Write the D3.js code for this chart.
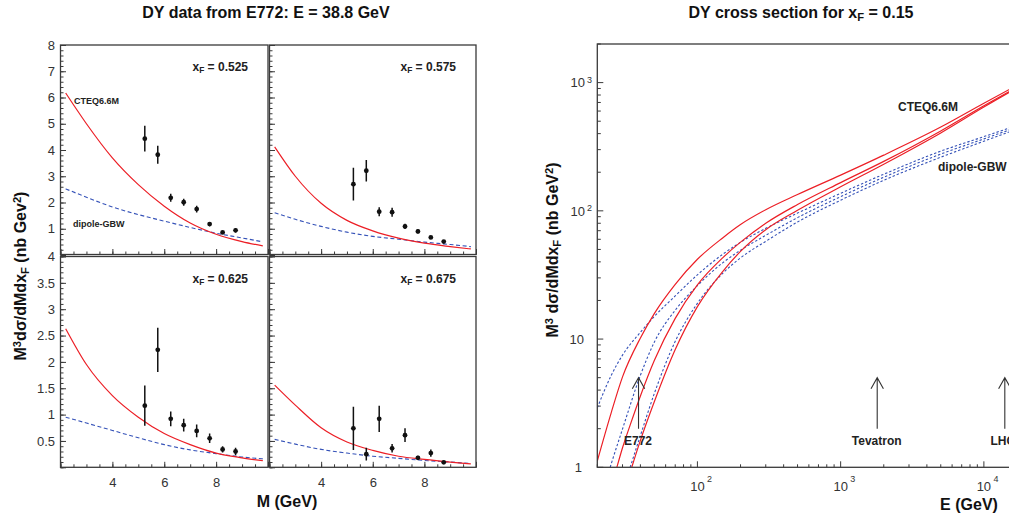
<!DOCTYPE html>
<html><head><meta charset="utf-8">
<script src="https://cdn.jsdelivr.net/npm/d3@7"></script>
<style>
body{margin:0;background:#fff}
svg{display:block}
text{font-family:"Liberation Sans",Arial,Helvetica,sans-serif}
</style></head>
<body><svg id="c" width="1009" height="523"></svg>
<script>
// ---------- data: left panels (E772, E = 38.8 GeV) ----------
const panelXF = ["0.525", "0.575", "0.625", "0.675"];
const massGrid = [2.2, 3, 4, 5, 6, 7, 8, 9, 9.8];
const cteq0525 = [6.17, 5.0, 3.7, 2.68, 1.86, 1.22, 0.79, 0.51, 0.345];
const gbw0525  = [2.52, 2.2, 1.83, 1.54, 1.29, 1.05, 0.83, 0.65, 0.50];
const cteq0575 = [4.12, 3.0, 1.97, 1.32, 0.92, 0.64, 0.45, 0.32, 0.23];
const gbw0575  = [1.61, 1.36, 1.09, 0.87, 0.71, 0.60, 0.49, 0.40, 0.32];
const cteq0625 = [2.63, 1.95, 1.36, 0.95, 0.64, 0.43, 0.27, 0.18, 0.125];
const gbw0625  = [0.95, 0.84, 0.70, 0.56, 0.43, 0.33, 0.26, 0.195, 0.16];
const cteq0675 = [1.56, 1.18, 0.75, 0.48, 0.32, 0.21, 0.15, 0.10, 0.065];
const gbw0675  = [0.53, 0.44, 0.34, 0.27, 0.21, 0.17, 0.13, 0.10, 0.07];

const massBins = [5.25, 5.75, 6.25, 6.75, 7.25, 7.75, 8.25, 8.75];
const data0525 = [4.43, 3.82, 2.18, 2.01, 1.75, 1.18, 0.86, 0.94];
const err0525  = [0.49, 0.34, 0.15, 0.13, 0.13, 0.08, 0.05, 0.08];
const data0575 = [2.70, 3.21, 1.65, 1.63, 1.09, 0.90, 0.67, 0.51];
const err0575  = [0.62, 0.41, 0.17, 0.17, 0.10, 0.08, 0.05, 0.05];
const data0625 = [1.17, 2.23, 0.92, 0.80, 0.69, 0.55, 0.34, 0.30];
const err0625  = [0.38, 0.42, 0.14, 0.12, 0.12, 0.09, 0.06, 0.07];
const data0675 = [0.74, 0.25, 0.92, 0.36, 0.61, 0.18, 0.27, 0.095];
const err0675  = [0.41, 0.12, 0.25, 0.08, 0.13, 0.04, 0.07, 0.03];

const massTicks = [4, 6, 8];
const topYTicks = [1, 2, 3, 4, 5, 6, 7, 8];
const botYTicks = [0.5, 1, 1.5, 2, 2.5, 3, 3.5, 4];

// ---------- data: right chart (x_F = 0.15) ----------
const cteqE1 = [20,25,30,40,50,70,100,150,200,300,500,1000,2000,5000,10000,20000];
const cteqV1 = [1.12,2.66,5.07,10.2,15.8,26.7,41.9,61.5,78.2,102,134,190,272,450,690,1050];
const cteqE2 = [27.4,30,34,40,50,70,100,150,200,300,500,1000,2000,5000,10000,20000];
const cteqV2 = [1.0,1.42,2.15,3.6,6.8,14.5,26.5,43,57,80,112,166,243,420,660,1020];
const cteqE3 = [34.8,40,50,70,100,150,200,300,500,1000,2000,5000,10000,20000];
const cteqV3 = [1.0,1.62,3.24,8.28,17.9,33.6,48.3,71.3,101,154,231,405,645,1005];
const gbwE1 = [20,25,30,40,50,70,100,150,200,300,500,1000,2000,5000,10000,20000];
const gbwV1 = [2.91,5.2,7.5,11.3,15,21.7,31.7,45.8,56.9,73,96,137,193,292,379,493];
const gbwE2 = [24.6,25,30,40,50,70,100,150,200,300,500,1000,2000,5000,10000,20000];
const gbwV2 = [1.0,1.06,1.99,5.22,9.46,16.8,26.1,39.3,49.3,64.4,88.5,129,183,277,364,478];
const gbwE3 = [33.9,40,50,70,100,150,200,300,500,1000,2000,5000,10000,20000];
const gbwV3 = [1.0,1.77,3.76,9.6,19.0,32.5,43,57.8,81.9,121,173,262,349,464];

const markerNames = ["E772", "Tevatron", "LHC"];
const markerE = [38.8, 1800, 14000];
const markerRange = [2, 5];
const xDecades = [100, 1000, 10000];
const yDecades = [1, 10, 100, 1000];

// ---------- drawing ----------
const RED = "#ec1f26", BLUE = "#3552b8", FRAME = "#3a3a3a", TXT = "#222";
const svg = d3.select("#c");
const defs = svg.append("defs");

function sub(textSel, parts) {
  parts.forEach(([t, k]) => {
    const ts = textSel.append("tspan").text(t);
    if (k === "sub") ts.attr("font-size", "0.7em").attr("baseline-shift", "-28%");
    if (k === "sup") ts.attr("font-size", "0.7em").attr("baseline-shift", "45%");
  });
}

// titles
svg.append("text").attr("x", 266).attr("y", 17.5).attr("text-anchor", "middle")
  .attr("font-size", 16).attr("font-weight", "bold").attr("fill", "#111")
  .text("DY data from E772: E = 38.8 GeV");
{
  const t = svg.append("text").attr("x", 801).attr("y", 17.5).attr("text-anchor", "middle")
    .attr("font-size", 16).attr("font-weight", "bold").attr("fill", "#111");
  sub(t, [["DY cross section for x", "n"], ["F", "sub"], [" = 0.15", "n"]]);
}

// left panels
const xLeft = d3.scaleLinear([2, 10], [60.5, 268]);
const xRight = d3.scaleLinear([2, 10], [269.5, 476]);
const yTop = d3.scaleLinear([0, 8], [255, 45]);
const yBot = d3.scaleLinear([0, 4], [467.3, 256.5]);

const panels = [
  { xF: panelXF[0], cteq: cteq0525, gbw: gbw0525, data: data0525, err: err0525, xs: xLeft, ys: yTop, top: true, left: true },
  { xF: panelXF[1], cteq: cteq0575, gbw: gbw0575, data: data0575, err: err0575, xs: xRight, ys: yTop, top: true, left: false },
  { xF: panelXF[2], cteq: cteq0625, gbw: gbw0625, data: data0625, err: err0625, xs: xLeft, ys: yBot, top: false, left: true },
  { xF: panelXF[3], cteq: cteq0675, gbw: gbw0675, data: data0675, err: err0675, xs: xRight, ys: yBot, top: false, left: false }
];

panels.forEach((p, i) => {
  const g = svg.append("g");
  const [x0, x1] = p.xs.range();
  const yr = p.ys.range();
  const y0 = yr[1];
  const y1 = p.top ? 254.5 : yr[0];
  const cid = "clipL" + i;
  defs.append("clipPath").attr("id", cid).append("rect")
    .attr("x", x0).attr("y", y0).attr("width", x1 - x0).attr("height", y1 - y0);

  const majY = p.top ? d3.range(0, 8.001, 1) : d3.range(0, 4.001, 0.5);
  const minY = p.top ? d3.range(0, 8.001, 0.2) : d3.range(0, 4.001, 0.1);
  const majX = d3.range(2, 10.001, 2);
  const minX = d3.range(2, 10.001, 0.5);

  const axB = g.append("g").attr("transform", `translate(0,${y1})`);
  axB.append("g").call(d3.axisBottom(p.xs).tickValues(minX).tickSize(-3).tickFormat(""));
  const showX = !p.top;
  axB.append("g").call(d3.axisBottom(p.xs).tickValues(majX).tickSize(-5.5).tickPadding(10.5)
    .tickFormat(d => (showX && massTicks.includes(d)) ? d3.format("d")(d) : ""));
  const axL = g.append("g").attr("transform", `translate(${x0},0)`);
  axL.append("g").call(d3.axisLeft(p.ys).tickValues(minY).tickSize(-3).tickFormat(""));
  const labs = p.top ? topYTicks : botYTicks;
  axL.append("g").call(d3.axisLeft(p.ys).tickValues(majY).tickSize(-5.5).tickPadding(5.5)
    .tickFormat(d => (p.left && labs.some(v => Math.abs(v - d) < 1e-6)) ? d3.format("~g")(d) : ""));
  g.selectAll(".domain").remove();
  g.selectAll(".tick line").attr("stroke", FRAME).attr("stroke-width", 1);
  g.selectAll(".tick text").attr("font-size", 13).attr("fill", "#333")
    .attr("font-family", '"Liberation Sans",Arial,sans-serif');

  const line = d3.line().x((d, k) => p.xs(massGrid[k])).y(d => p.ys(d)).curve(d3.curveMonotoneX);
  const cg = g.append("g").attr("clip-path", `url(#${cid})`);
  cg.append("path").attr("d", line(p.gbw)).attr("fill", "none").attr("stroke", BLUE)
    .attr("stroke-width", 1.1).attr("stroke-dasharray", "4,2.6");
  cg.append("path").attr("d", line(p.cteq)).attr("fill", "none").attr("stroke", RED)
    .attr("stroke-width", 1.2);

  const dg = cg.append("g");
  dg.selectAll("line").data(p.data).join("line")
    .attr("x1", (d, k) => p.xs(massBins[k])).attr("x2", (d, k) => p.xs(massBins[k]))
    .attr("y1", (d, k) => p.ys(d - p.err[k])).attr("y2", (d, k) => p.ys(d + p.err[k]))
    .attr("stroke", "#111").attr("stroke-width", 1.5);
  dg.selectAll("circle").data(p.data).join("circle")
    .attr("cx", (d, k) => p.xs(massBins[k])).attr("cy", d => p.ys(d))
    .attr("r", 2.4).attr("fill", "#111");

  g.append("rect").attr("x", x0).attr("y", y0).attr("width", x1 - x0).attr("height", y1 - y0)
    .attr("fill", "none").attr("stroke", FRAME).attr("stroke-width", 1.3);

  const lt = g.append("text").attr("x", x1 - 20).attr("y", y0 + (p.top ? 26 : 26.5))
    .attr("text-anchor", "end").attr("font-size", 12).attr("font-weight", "bold").attr("fill", TXT);
  sub(lt, [["x", "n"], ["F", "sub"], [" = " + p.xF, "n"]]);

  if (i === 0) {
    g.append("text").attr("x", 74).attr("y", 103.5).attr("font-size", 9).attr("font-weight", "bold")
      .attr("fill", TXT).text("CTEQ6.6M");
    g.append("text").attr("x", 73).attr("y", 226.5).attr("font-size", 9).attr("font-weight", "bold")
      .attr("fill", TXT).text("dipole-GBW");
  }
});

// left axis titles
svg.append("text").attr("x", 287).attr("y", 507).attr("text-anchor", "middle")
  .attr("font-size", 16).attr("font-weight", "bold").attr("fill", "#111").text("M (GeV)");
{
  const t = svg.append("text").attr("transform", "translate(26,276) rotate(-90)")
    .attr("text-anchor", "middle").attr("font-size", 16).attr("font-weight", "bold").attr("fill", "#111");
  sub(t, [["M", "n"], ["3", "sup"], ["d\u03c3/dMdx", "n"], ["F", "sub"], [" (nb Gev", "n"], ["2", "sup"], [")", "n"]]);
}

// ---------- right chart ----------
const xE = d3.scaleLog([20, 20000], [597.3, 1027]);
const yE = d3.scaleLog([1, 2000], [467.3, 44]);
const R = svg.append("g");
const [rx0, rx1] = xE.range();
const [ry1, ry0] = yE.range();
defs.append("clipPath").attr("id", "clipR").append("rect")
  .attr("x", rx0).attr("y", ry0).attr("width", rx1 - rx0).attr("height", ry1 - ry0);

const xMinor = [];
[10, 100, 1000, 10000].forEach(dec => d3.range(1, 10).forEach(m => {
  const v = dec * m; if (v >= 20 && v <= 20000) xMinor.push(v);
}));
const yMinor = [];
[1, 10, 100, 1000].forEach(dec => d3.range(1, 10).forEach(m => {
  const v = dec * m; if (v >= 1 && v <= 2000) yMinor.push(v);
}));
const tg = R.append("g").attr("stroke", FRAME).attr("stroke-width", 1);
tg.selectAll("line.xm").data(xMinor).join("line").attr("class", "xm")
  .attr("x1", d => xE(d)).attr("x2", d => xE(d))
  .attr("y1", ry1).attr("y2", d => ry1 - (xDecades.includes(d) ? 6 : 3));
tg.selectAll("line.ym").data(yMinor).join("line").attr("class", "ym")
  .attr("y1", d => yE(d)).attr("y2", d => yE(d))
  .attr("x1", rx0).attr("x2", d => rx0 + (yDecades.includes(d) ? 6 : 3.5));

xDecades.forEach(d => {
  const x = xE(d);
  R.append("text").attr("x", x).attr("y", 490.7).attr("text-anchor", "middle")
    .attr("font-size", 13).attr("fill", "#333").text("10");
  R.append("text").attr("x", x + 9.5).attr("y", 482).attr("font-size", 9).attr("fill", "#333")
    .text(String(Math.round(Math.log10(d))));
});
yDecades.forEach(d => {
  const y = yE(d) + 4.7;
  const e = Math.round(Math.log10(d));
  if (e === 0) {
    R.append("text").attr("x", 582).attr("y", y).attr("text-anchor", "end")
      .attr("font-size", 13).attr("fill", "#333").text("1");
  } else if (e === 1) {
    R.append("text").attr("x", 584).attr("y", y).attr("text-anchor", "end")
      .attr("font-size", 13).attr("fill", "#333").text("10");
  } else {
    R.append("text").attr("x", 585).attr("y", y).attr("text-anchor", "end")
      .attr("font-size", 13).attr("fill", "#333").text("10");
    R.append("text").attr("x", 587).attr("y", y - 4.5).attr("font-size", 9)
      .attr("fill", "#333").text(String(e));
  }
});

const rc = R.append("g").attr("clip-path", "url(#clipR)");
const eLine = (es) => d3.line().x((d, k) => xE(es[k])).y(d => yE(d)).curve(d3.curveMonotoneX);
[[gbwE1, gbwV1], [gbwE2, gbwV2], [gbwE3, gbwV3]].forEach(([es, vs]) => {
  rc.append("path").attr("d", eLine(es)(vs)).attr("fill", "none").attr("stroke", BLUE)
    .attr("stroke-width", 1.1).attr("stroke-dasharray", "2.4,2");
});
[[cteqE1, cteqV1], [cteqE2, cteqV2], [cteqE3, cteqV3]].forEach(([es, vs]) => {
  rc.append("path").attr("d", eLine(es)(vs)).attr("fill", "none").attr("stroke", RED)
    .attr("stroke-width", 1.2);
});

markerE.forEach((e, k) => {
  const x = xE(e), yb = yE(markerRange[0]), yt = yE(markerRange[1]);
  R.append("path").attr("d", `M${x},${yb}L${x},${yt}M${x - 6.2},${yt + 11}L${x},${yt}L${x + 6.2},${yt + 11}`)
    .attr("fill", "none").attr("stroke", "#333").attr("stroke-width", 1.1);
  R.append("text").attr("x", x - (k === 2 ? 2 : 0.5)).attr("y", 445).attr("text-anchor", "middle")
    .attr("font-size", 12).attr("font-weight", "bold").attr("fill", TXT).text(markerNames[k]);
});

R.append("rect").attr("x", rx0).attr("y", ry0).attr("width", rx1 - rx0).attr("height", ry1 - ry0)
  .attr("fill", "none").attr("stroke", FRAME).attr("stroke-width", 1.3);

R.append("text").attr("x", 898).attr("y", 111).attr("font-size", 12).attr("font-weight", "bold")
  .attr("fill", TXT).text("CTEQ6.6M");
R.append("text").attr("x", 938).attr("y", 171).attr("font-size", 12).attr("font-weight", "bold")
  .attr("fill", TXT).text("dipole-GBW");

svg.append("text").attr("x", 969).attr("y", 510).attr("text-anchor", "middle")
  .attr("font-size", 16).attr("font-weight", "bold").attr("fill", "#111").text("E (GeV)");
{
  const t = svg.append("text").attr("transform", "translate(558,250) rotate(-90)")
    .attr("text-anchor", "middle").attr("font-size", 16).attr("font-weight", "bold").attr("fill", "#111");
  sub(t, [["M", "n"], ["3", "sup"], [" d\u03c3/dMdx", "n"], ["F", "sub"], [" (nb GeV", "n"], ["2", "sup"], [")", "n"]]);
}
</script></body></html>
